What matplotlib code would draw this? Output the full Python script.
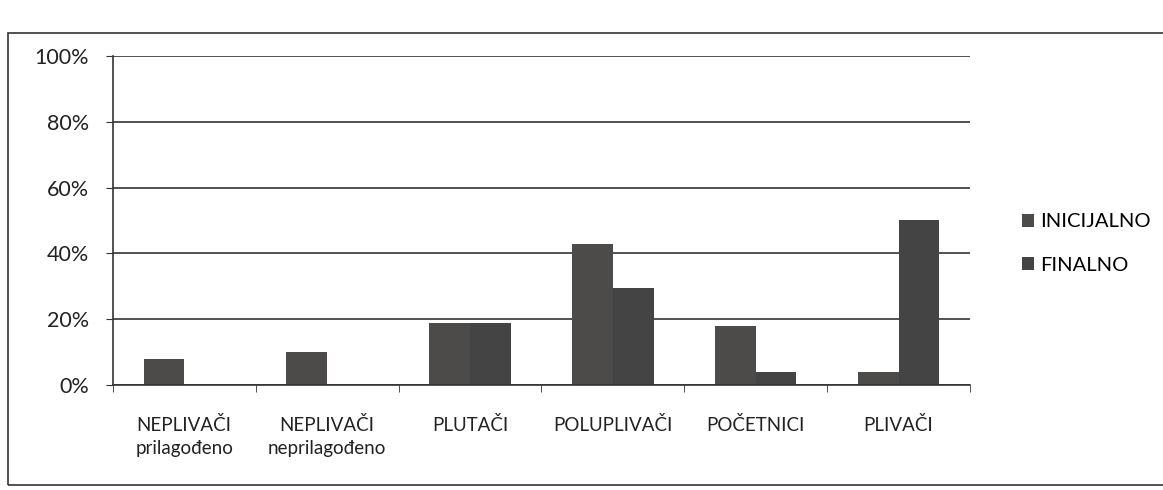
import numpy as np
import matplotlib.pyplot as plt
from matplotlib.patches import Rectangle

# Udio ispitanika po kategoriji (%)
categories = [
    "NEPLIVAČI\nprilagođeno",
    "NEPLIVAČI\nneprilagođeno",
    "PLUTAČI",
    "POLUPLIVAČI",
    "POČETNICI",
    "PLIVAČI",
]
inicijalno = [8, 10, 19, 43, 18, 4]
finalno = [0, 0, 19, 29.5, 4, 50]

yticks = [0, 20, 40, 60, 80, 100]
ytick_labels = ["0%", "20%", "40%", "60%", "80%", "100%"]

plt.rcParams['font.family'] = ['Lato', 'DejaVu Sans']
plt.rcParams['font.size'] = 13.5

fig = plt.figure(figsize=(11.63, 4.9), dpi=100)
ax = fig.add_axes([0.097, 0.214, 0.737, 0.672])

# outer frame of the chart area
fig.patches.append(Rectangle((8 / 1163, 1 - 485 / 490), 1.0, (485 - 33) / 490,
                             transform=fig.transFigure, fill=False,
                             edgecolor="#333333", linewidth=1.2))

x = np.arange(len(categories))
w = 0.285
ax.bar(x - w / 2, inicijalno, w, color="#4d4a4a", label="INICIJALNO")
ax.bar(x + w / 2, finalno, w, color="#444444", label="FINALNO")

ax.set_xlim(-0.5, len(categories) - 0.5)
ax.set_ylim(0, 100)
ax.set_yticks(yticks)
ax.set_yticklabels(ytick_labels, color="#222222", fontsize=15.5)
ax.yaxis.grid(True, color="#333333", linewidth=1.2)
ax.set_axisbelow(True)

ax.set_xticks(x)
ax.set_xticklabels(categories, color="#222222", linespacing=1.45)
ax.set_xticks(np.arange(len(categories) + 1) - 0.5, minor=True)
ax.tick_params(axis="x", which="major", length=0, pad=22)
ax.tick_params(axis="x", which="minor", length=5, color="#333333")
ax.tick_params(axis="y", length=5, color="#333333", pad=12)

for side in ["top", "right"]:
    ax.spines[side].set_visible(False)
for side in ["left", "bottom"]:
    ax.spines[side].set_color("#333333")
    ax.spines[side].set_linewidth(1.2)

ax.legend(loc="center left", bbox_to_anchor=(1.04, 0.43), frameon=False,
          handlelength=0.6, handleheight=0.6, handletextpad=0.3,
          labelspacing=1.3, fontsize=14.5)

plt.savefig("out.png", dpi=100)
